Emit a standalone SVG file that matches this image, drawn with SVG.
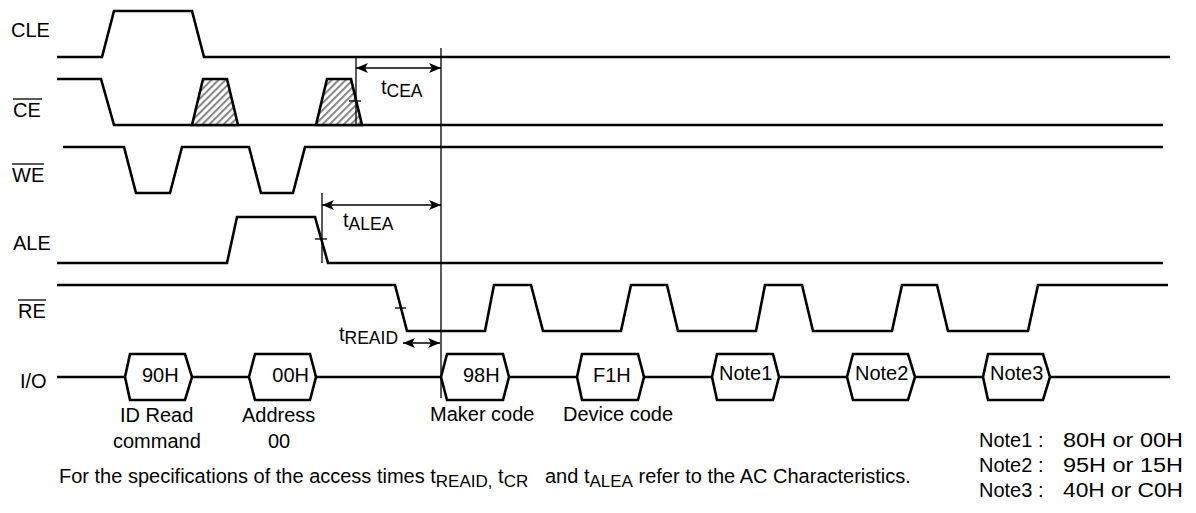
<svg xmlns="http://www.w3.org/2000/svg" width="1196" height="513" viewBox="0 0 1196 513">
<style>
  .sig { fill: none; stroke: #000; stroke-width: 2.6; stroke-linejoin: miter; }
  .hex { fill: #fff; stroke: #000; stroke-width: 2.6; }
  .thin { fill: none; stroke: #000; stroke-width: 1.3; }
  .arr { fill: none; stroke: #000; stroke-width: 1.5; marker-start: url(#ah); marker-end: url(#ah); }
  .ovl { stroke: #000; stroke-width: 1.3; }
  text { font-family: "Liberation Sans", Arial, sans-serif; font-size: 20px; fill: #000; }
  .sub { font-size: 17.5px; }
  .bsub { font-size: 17px; }
</style>
<defs>
  <marker id="ah" viewBox="0 0 12 10" refX="12" refY="5" markerWidth="12" markerHeight="10" markerUnits="userSpaceOnUse" orient="auto-start-reverse">
    <path d="M0,0 L12,5 L0,10 L3,5 Z" fill="#000"/>
  </marker>
  <pattern id="hatch" patternUnits="userSpaceOnUse" width="5" height="5" patternTransform="rotate(45)">
    <rect width="5" height="5" fill="#fff"/>
    <line x1="1" y1="0" x2="1" y2="5" stroke="#8a8a8a" stroke-width="2.2"/>
  </pattern>
</defs>
<rect width="1196" height="513" fill="#fff"/>

<g id="sig-CLE">
  <text x="11" y="37">CLE</text>
  <path class="sig" d="M57,57 H102 L114,11 H192 L204,57 H1170"/>
</g>

<g id="sig-CE">
  <text x="13" y="117">CE</text>
  <line class="ovl" x1="13" y1="99" x2="42" y2="99"/>
  <path class="sig" d="M57,79 H101 L114,125 H1163"/>
  <path class="sig" style="fill:url(#hatch)" d="M192,125 L203,79 H227 L238,125 Z"/>
  <path class="sig" style="fill:url(#hatch)" d="M316,125 L327,79 H351 L362,125 Z"/>
</g>

<g id="sig-WE">
  <text x="12" y="182">WE</text>
  <line class="ovl" x1="12" y1="164" x2="44" y2="164"/>
  <path class="sig" d="M63,147 H124 L136,193 H170 L182,147 H249 L261,193 H293 L305,147 H1163"/>
</g>

<g id="sig-ALE">
  <text x="13" y="250">ALE</text>
  <path class="sig" d="M57,263 H227 L237,217 H315 L328,263 H1163"/>
</g>

<g id="sig-RE">
  <text x="18" y="318">RE</text>
  <line class="ovl" x1="18" y1="300" x2="46" y2="300"/>
  <path class="sig" d="M57,285 H395 L407,331 H485 L494,285 H531 L543,331 H621 L631,285 H667 L678,331 H756 L765,285 H802 L813,331 H892 L902,285 H937 L948,331 H1028 L1038,285 H1168"/>
</g>

<g id="sig-IO">
  <text x="20" y="388">I/O</text>
  <path class="sig" d="M57,377 H125 M192,377 H249 M316,377 H441 M509,377 H577 M644,377 H712 M779,377 H847 M915,377 H983 M1050,377 H1170"/>
</g>

<g id="io-90H">
  <path class="hex" d="M125,377 L130,354 H185 L192,377 L185,400 H130 Z"/>
  <text x="142" y="382">90H</text>
  <text x="120" y="422">ID Read</text>
  <text x="113" y="448">command</text>
</g>
<g id="io-00H">
  <path class="hex" d="M249,377 L255,354 H310 L316,377 L310,400 H255 Z"/>
  <text x="309" y="382" text-anchor="end">00H</text>
  <text x="242" y="422">Address</text>
  <text x="268" y="448">00</text>
</g>
<g id="io-98H">
  <path class="hex" d="M441,377 L447,354 H503 L509,377 L503,400 H447 Z"/>
  <text x="463" y="382">98H</text>
  <text x="430" y="421">Maker code</text>
</g>
<g id="io-F1H">
  <path class="hex" d="M577,377 L582,354 H638 L644,377 L638,400 H582 Z"/>
  <text x="593" y="382">F1H</text>
  <text x="563" y="421">Device code</text>
</g>
<g id="io-Note1">
  <path class="hex" d="M712,377 L717,354 H773 L779,377 L773,400 H717 Z"/>
  <text x="719" y="380">Note1</text>
</g>
<g id="io-Note2">
  <path class="hex" d="M847,377 L853,354 H908 L915,377 L908,400 H853 Z"/>
  <text x="855" y="380">Note2</text>
</g>
<g id="io-Note3">
  <path class="hex" d="M983,377 L988,354 H1043 L1050,377 L1043,400 H988 Z"/>
  <text x="990" y="380">Note3</text>
</g>

<g id="connectors">
  <line class="thin" x1="356" y1="57" x2="356" y2="125"/>
  <line class="thin" x1="322" y1="193" x2="322" y2="263"/>
  <line class="thin" x1="441" y1="48" x2="441" y2="398"/>
  <line class="thin" x1="349" y1="101" x2="361" y2="101"/>
  <line class="thin" x1="315" y1="239" x2="327" y2="239"/>
  <line class="thin" x1="395" y1="308" x2="406" y2="308"/>
  <line class="arr" x1="356" y1="68" x2="441" y2="68"/>
  <line class="arr" x1="322" y1="205" x2="441" y2="205"/>
  <line class="arr" x1="403" y1="343" x2="440" y2="343"/>
</g>

<g id="timing-labels">
  <text x="381" y="94">t<tspan class="sub" dy="3">CEA</tspan></text>
  <text x="343" y="227">t<tspan class="sub" dy="3">ALEA</tspan></text>
  <text x="339" y="341">t<tspan class="sub" dy="3">REAID</tspan></text>
</g>

<g id="footnote">
  <text x="59" y="483">For the specifications of the access times t<tspan class="bsub" dy="4">REAID,</tspan><tspan dy="-4"> t</tspan><tspan class="bsub" dy="4">CR</tspan><tspan x="545" dy="-4">and t</tspan><tspan class="bsub" dy="4">ALEA</tspan><tspan dy="-4"> refer to the AC Characteristics.</tspan></text>
</g>

<g id="notes">
  <text x="979" y="447">Note1 :</text>
  <text x="1063" y="447" textLength="120" lengthAdjust="spacingAndGlyphs">80H or 00H</text>
  <text x="979" y="472">Note2 :</text>
  <text x="1063" y="472" textLength="120" lengthAdjust="spacingAndGlyphs">95H or 15H</text>
  <text x="979" y="497">Note3 :</text>
  <text x="1063" y="497" textLength="120" lengthAdjust="spacingAndGlyphs">40H or C0H</text>
</g>
</svg>
